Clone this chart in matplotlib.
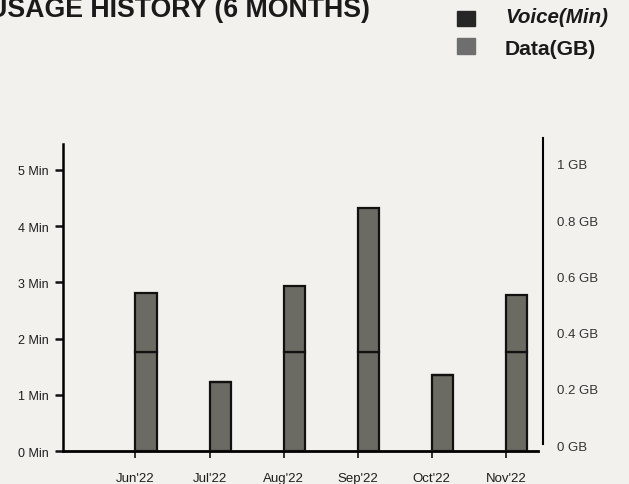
import matplotlib.pyplot as plt
from matplotlib.transforms import ScaledTranslation

plt.rcParams['font.family'] = ['Liberation Sans', 'DejaVu Sans']

# Usage history values
months = ["Jun'22", "Jul'22", "Aug'22", "Sep'22", "Oct'22", "Nov'22"]
data_first = [0.352, 0.246, 0.352, 0.352, 0.272, 0.352]   # GB, lower segment
data_rest = [0.209, 0.0, 0.234, 0.512, 0.0, 0.204]        # GB, upper segment
voice_min = [0, 0, 0, 0, 0, 0]

min_ticks = [0, 1, 2, 3, 4, 5]
min_labels = ['0 Min', '1 Min', '2 Min', '3 Min', '4 Min', '5 Min']
gb_ticks = [0, 0.2, 0.4, 0.6, 0.8, 1.0]
gb_labels = ['0 GB', '0.2 GB', '0.4 GB', '0.6 GB', '0.8 GB', '1 GB']

paper = '#f3f1ee'
bar_color = '#6b6a63'

fig = plt.figure(figsize=(6.29, 4.85), dpi=100, facecolor=paper)
ax = fig.add_axes([0.100, 0.068, 0.763, 0.633])
ax.set_facecolor('none')
ax2 = ax.twinx()

x = list(range(len(months)))
ax.bar(x, voice_min, width=0.29, align='edge', color='#2a2a2a')
ax2.bar(x, data_first, width=0.29, align='edge', color=bar_color,
        edgecolor='#111111', linewidth=1.6)
ax2.bar(x, data_rest, bottom=data_first, width=0.29, align='edge',
        color=bar_color, edgecolor='#111111', linewidth=1.6)

ax.set_xlim(-0.98, 5.5)
ax.set_ylim(0, 5.46)

ax.set_xticks(x)
ax.set_xticklabels(months, fontsize=9.5, color='#1e1e1e')
ax.set_yticks(min_ticks)
ax.set_yticklabels(min_labels, fontsize=9, color='#1e1e1e')
ax.tick_params(axis='y', length=6, width=1.8, color='#111111', pad=4)
ax.tick_params(axis='x', length=5, width=1.2, color='#111111', pad=10)

ax2.set_ylim(0, 5.46 / 5)
ax2.set_yticks(gb_ticks)
ax2.set_yticklabels(gb_labels, fontsize=9.5, color='#333333')
ax2.tick_params(axis='y', length=0, pad=10)
shift = ScaledTranslation(0, 6 / 100, fig.dpi_scale_trans)
for lab in ax2.get_yticklabels():
    lab.set_transform(lab.get_transform() + shift)

for a in (ax, ax2):
    a.spines['top'].set_visible(False)
ax.spines['right'].set_visible(False)
ax.spines['left'].set_linewidth(1.8)
ax.spines['bottom'].set_linewidth(2.0)
ax.spines['bottom'].set_bounds(-0.98, 5.43)
ax2.spines['left'].set_visible(False)
ax2.spines['bottom'].set_visible(False)
ax2.spines['right'].set_linewidth(1.5)
ax2.spines['right'].set_bounds(0.025, 5.56 / 5)
ax2.spines['right'].set_clip_on(False)

# title (cut at the left edge, as on the photographed bill) and legend
fig.text(370 / 629, 1 - 17 / 485, 'USAGE HISTORY (6 MONTHS)', ha='right',
         va='baseline', fontsize=19.3, fontweight='bold', color='#1a1a1a')
fig.patches.append(plt.Rectangle((457 / 629, 1 - 27 / 485), 18 / 629, 15 / 485,
                                 transform=fig.transFigure, color='#262626'))
fig.patches.append(plt.Rectangle((457 / 629, 1 - 55 / 485), 18 / 629, 16 / 485,
                                 transform=fig.transFigure, color='#6e6e6e'))
fig.text(505 / 629, 1 - 23 / 485, 'Voice(Min)', ha='left', va='baseline',
         fontsize=14.8, fontweight='bold', style='italic', color='#1a1a1a')
fig.text(505 / 629, 1 - 55 / 485, 'Data(GB)', ha='left', va='baseline',
         fontsize=15.2, fontweight='bold', color='#1a1a1a')

plt.savefig('out.png', dpi=100, facecolor=paper)
